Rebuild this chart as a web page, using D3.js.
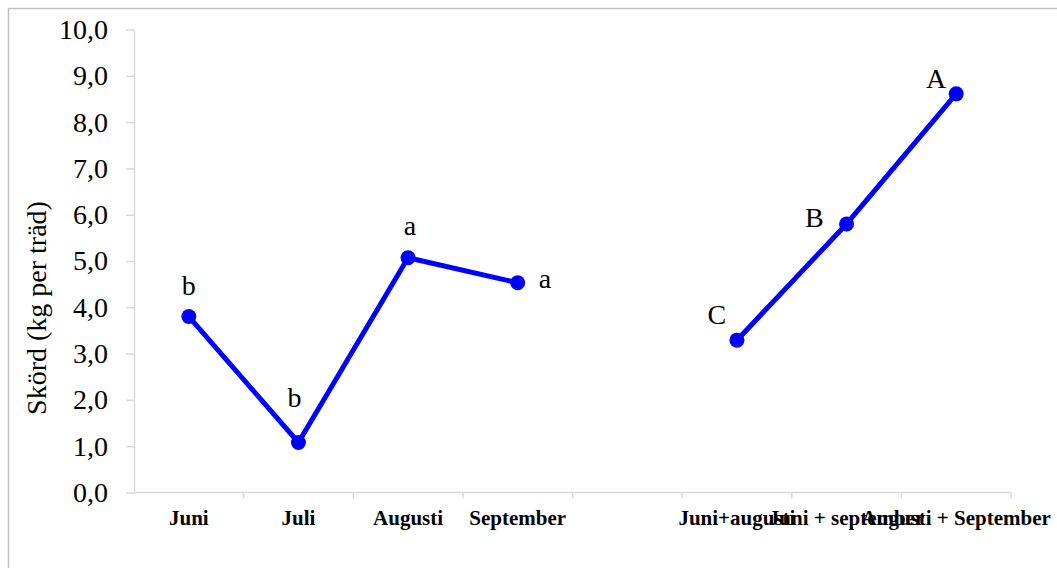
<!DOCTYPE html>
<html>
<head>
<meta charset="utf-8">
<script src="https://cdn.jsdelivr.net/npm/d3@7"></script>
<style>
  html, body { margin: 0; padding: 0; background: #fff; overflow: hidden; }
  svg { display: block; }
</style>
</head>
<body>
<svg id="chart" width="1057" height="568"></svg>
<script>
// ---- data ----
const categories = ["Juni", "Juli", "Augusti", "September", "", "Juni+augusti", "Juni + september", "Augusti + September"];
const values = [3.80, 1.08, 5.07, 4.53, null, 3.29, 5.80, 8.61];
const letters = ["b", "b", "a", "a", "", "C", "B", "A"];
const yTicks = [0, 1, 2, 3, 4, 5, 6, 7, 8, 9, 10];
const yTitle = "Skörd (kg per träd)";

// label placement (style, not data)
const labelPlace = [
  {dx: 0, dy: -22, anchor: "middle"},
  {dx: -4, dy: -35, anchor: "middle"},
  {dx: 2, dy: -23, anchor: "middle"},
  {dx: 21, dy: 5, anchor: "start"},
  {dx: 0, dy: 0, anchor: "middle"},
  {dx: -20, dy: -16, anchor: "middle"},
  {dx: -23, dy: 3, anchor: "end"},
  {dx: -20, dy: -6, anchor: "middle"}
];

(function () {
const FONT = "'Liberation Serif', 'Times New Roman', serif";
const svg = d3.select("#chart");
const pLeft = 134, pRight = 1011, pTop = 29.5, pBottom = 492.5;
const axisColor = "#d9d9d9";

// outer border
svg.append("rect").attr("x", 8.5).attr("y", 8.5).attr("width", 1200).attr("height", 800)
  .attr("fill", "none").attr("stroke", "#bfbfbf").attr("stroke-width", 1.5);

const x = d3.scaleBand().domain(d3.range(categories.length)).range([pLeft, pRight]).padding(0);
const y = d3.scaleLinear().domain([0, 10]).range([pBottom, pTop]);

// y axis
const yAxis = d3.axisLeft(y).tickValues(yTicks).tickSize(8).tickSizeOuter(0).tickPadding(18)
  .tickFormat(d => d.toFixed(1).replace(".", ","));
const gy = svg.append("g").attr("transform", `translate(${pLeft},0)`).call(yAxis)
  .attr("font-family", null).attr("font-size", null);
gy.select(".domain").attr("stroke", axisColor).attr("stroke-width", 1.5);
gy.selectAll(".tick line").attr("stroke", axisColor).attr("stroke-width", 1.5);
gy.selectAll(".tick text").style("font-family", FONT).style("font-size", "28px").attr("fill", "#000");

// x axis line + boundary ticks
svg.append("line").attr("x1", pLeft).attr("x2", pRight).attr("y1", y(0)).attr("y2", y(0))
  .attr("stroke", axisColor).attr("stroke-width", 1.5);
const bounds = d3.range(categories.length + 1).map(i => i < categories.length ? x(i) : x(categories.length - 1) + x.bandwidth());
svg.selectAll(".xtick").data(bounds.slice(1)).join("line").attr("class", "xtick")
  .attr("x1", d => d).attr("x2", d => d).attr("y1", y(0)).attr("y2", y(0) + 6)
  .attr("stroke", axisColor).attr("stroke-width", 1.5);

// x labels
svg.selectAll(".xlab").data(categories).join("text").attr("class", "xlab")
  .attr("x", (d, i) => x(i) + x.bandwidth() / 2).attr("y", 525)
  .attr("text-anchor", "middle")
  .style("font-family", FONT).style("font-size", "21px").style("font-weight", "bold")
  .attr("fill", "#000")
  .text(d => d);

// y title
svg.append("text").attr("transform", "translate(46,308) rotate(-90)")
  .attr("text-anchor", "middle")
  .style("font-family", FONT).style("font-size", "28px").attr("fill", "#000")
  .text(yTitle);

// line
const pts = values.map((v, i) => ({i, v}));
const line = d3.line().defined(d => d.v !== null)
  .x(d => x(d.i) + x.bandwidth() / 2).y(d => y(d.v));
svg.append("path").datum(pts).attr("d", line)
  .attr("fill", "none").attr("stroke", "#0000ff").attr("stroke-width", 5).attr("stroke-linejoin", "round");

const valid = pts.filter(d => d.v !== null);
svg.selectAll(".pt").data(valid).join("circle").attr("class", "pt")
  .attr("cx", d => x(d.i) + x.bandwidth() / 2).attr("cy", d => y(d.v)).attr("r", 7.5)
  .attr("fill", "#0000ff");

// letter labels
svg.selectAll(".lbl").data(valid).join("text").attr("class", "lbl")
  .attr("x", d => x(d.i) + x.bandwidth() / 2 + labelPlace[d.i].dx)
  .attr("y", d => y(d.v) + labelPlace[d.i].dy)
  .attr("text-anchor", d => labelPlace[d.i].anchor)
  .style("font-family", FONT).style("font-size", "28px").attr("fill", "#000")
  .text(d => letters[d.i]);
})();
</script>
</body>
</html>
